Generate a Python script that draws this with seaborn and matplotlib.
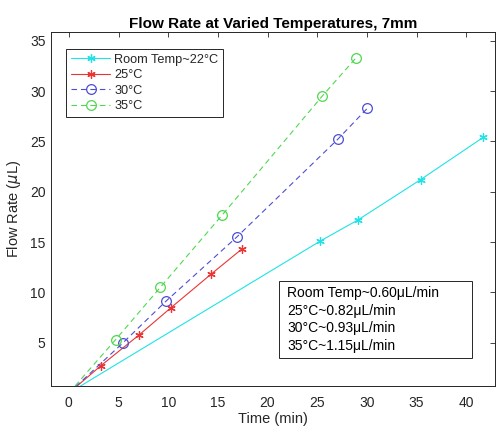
import matplotlib
matplotlib.use("Agg")
import matplotlib.pyplot as plt
from matplotlib.patches import Rectangle
import seaborn as sns
import pandas as pd

# data (time in min, volume in uL)
room_t = [0, 25.3, 29.1, 35.4, 41.7]
room_v = [0, 15.1, 17.2, 21.2, 25.4]
t25 = [0, 3.2, 7.1, 10.3, 14.3, 17.4]
v25 = [0, 2.7, 5.8, 8.5, 11.8, 14.3]
t30 = [0, 5.4, 9.8, 16.9, 27.05, 30.05]
v30 = [0, 4.95, 9.15, 15.5, 25.2, 28.3]
t35 = [0, 4.7, 9.2, 15.4, 25.5, 28.9]
v35 = [0, 5.3, 10.5, 17.65, 29.5, 33.3]

labels = ["Room Temp~22°C", "25°C", "30°C", "35°C"]
rates = ["Room Temp~0.60μL/min", "25°C~0.82μL/min", "30°C~0.93μL/min", "35°C~1.15μL/min"]

sns.set_style("white")
plt.rcParams['font.family'] = ['Liberation Sans', 'DejaVu Sans']
dark = '#262626'

fig = plt.figure(figsize=(4.97, 4.26), dpi=100)
ax = fig.add_axes([0.1026, 0.0939, 0.8934, 0.8303])

series = [
    (room_t, room_v, '#1fe3e6', (6, 2, 0), '-', 'full'),
    (t25, v25, '#ec3434', (6, 2, 0), '-', 'full'),
    (t30, v30, '#4d4dd6', 'o', (0, (5, 3.5)), 'none'),
    (t35, v35, '#4fd84f', 'o', (0, (5, 3.5)), 'none'),
]

for (t, v, col, mk, ls, fill), lab in zip(series, labels):
    df = pd.DataFrame({"t": t, "v": v})
    ms = 6 if fill == 'full' else 7
    sns.lineplot(data=df, x="t", y="v", ax=ax, sort=False, estimator=None,
                 color=col, lw=0.8, linestyle=ls, marker=mk, markersize=ms,
                 markerfacecolor=col if fill == 'full' else 'none',
                 markeredgecolor=col, markeredgewidth=0.9, label=lab)

ax.set_xlim(-1.8, 42.9)
ax.set_ylim(0.7, 35.85)
ax.set_xticks(range(0, 41, 5))
ax.set_yticks(range(5, 36, 5))

for s in ax.spines.values():
    s.set_color(dark)
    s.set_linewidth(0.7)
ax.tick_params(axis='both', direction='in', top=True, right=True, length=3.5,
               width=0.6, color=dark, labelcolor=dark, labelsize=10)
ax.tick_params(axis='x', pad=7)
ax.tick_params(axis='y', pad=4)

ax.set_title("Flow Rate at Varied Temperatures, 7mm", fontsize=11, fontweight='bold',
             color='black', pad=3)
ax.set_xlabel("Time (min)", fontsize=10.5, color=dark, labelpad=2)
ax.set_ylabel("Flow Rate ($\\mu$L)", fontsize=10.5, color=dark, labelpad=5)

leg = ax.legend(loc='upper left', bbox_to_anchor=(0.0338, 0.953), borderaxespad=0,
                fancybox=False, edgecolor=dark, framealpha=1, fontsize=9.2,
                handlelength=3.1, handletextpad=0.3, labelspacing=0.27,
                borderpad=0.38, numpoints=1)
leg.get_frame().set_linewidth(0.7)
for txt in leg.get_texts():
    txt.set_color(dark)

# annotation box with the fitted rates
ax.add_patch(Rectangle((0.5135, 0.078), 0.4347, 0.2194, transform=ax.transAxes,
                       facecolor='white', edgecolor=dark, lw=0.7, zorder=5))
for i, r in enumerate(rates):
    ax.text(0.5315, 0.262 - i * 0.0493, r, transform=ax.transAxes, fontsize=10,
            color='black', va='center', ha='left', zorder=6)

fig.savefig("out.png", dpi=100)
